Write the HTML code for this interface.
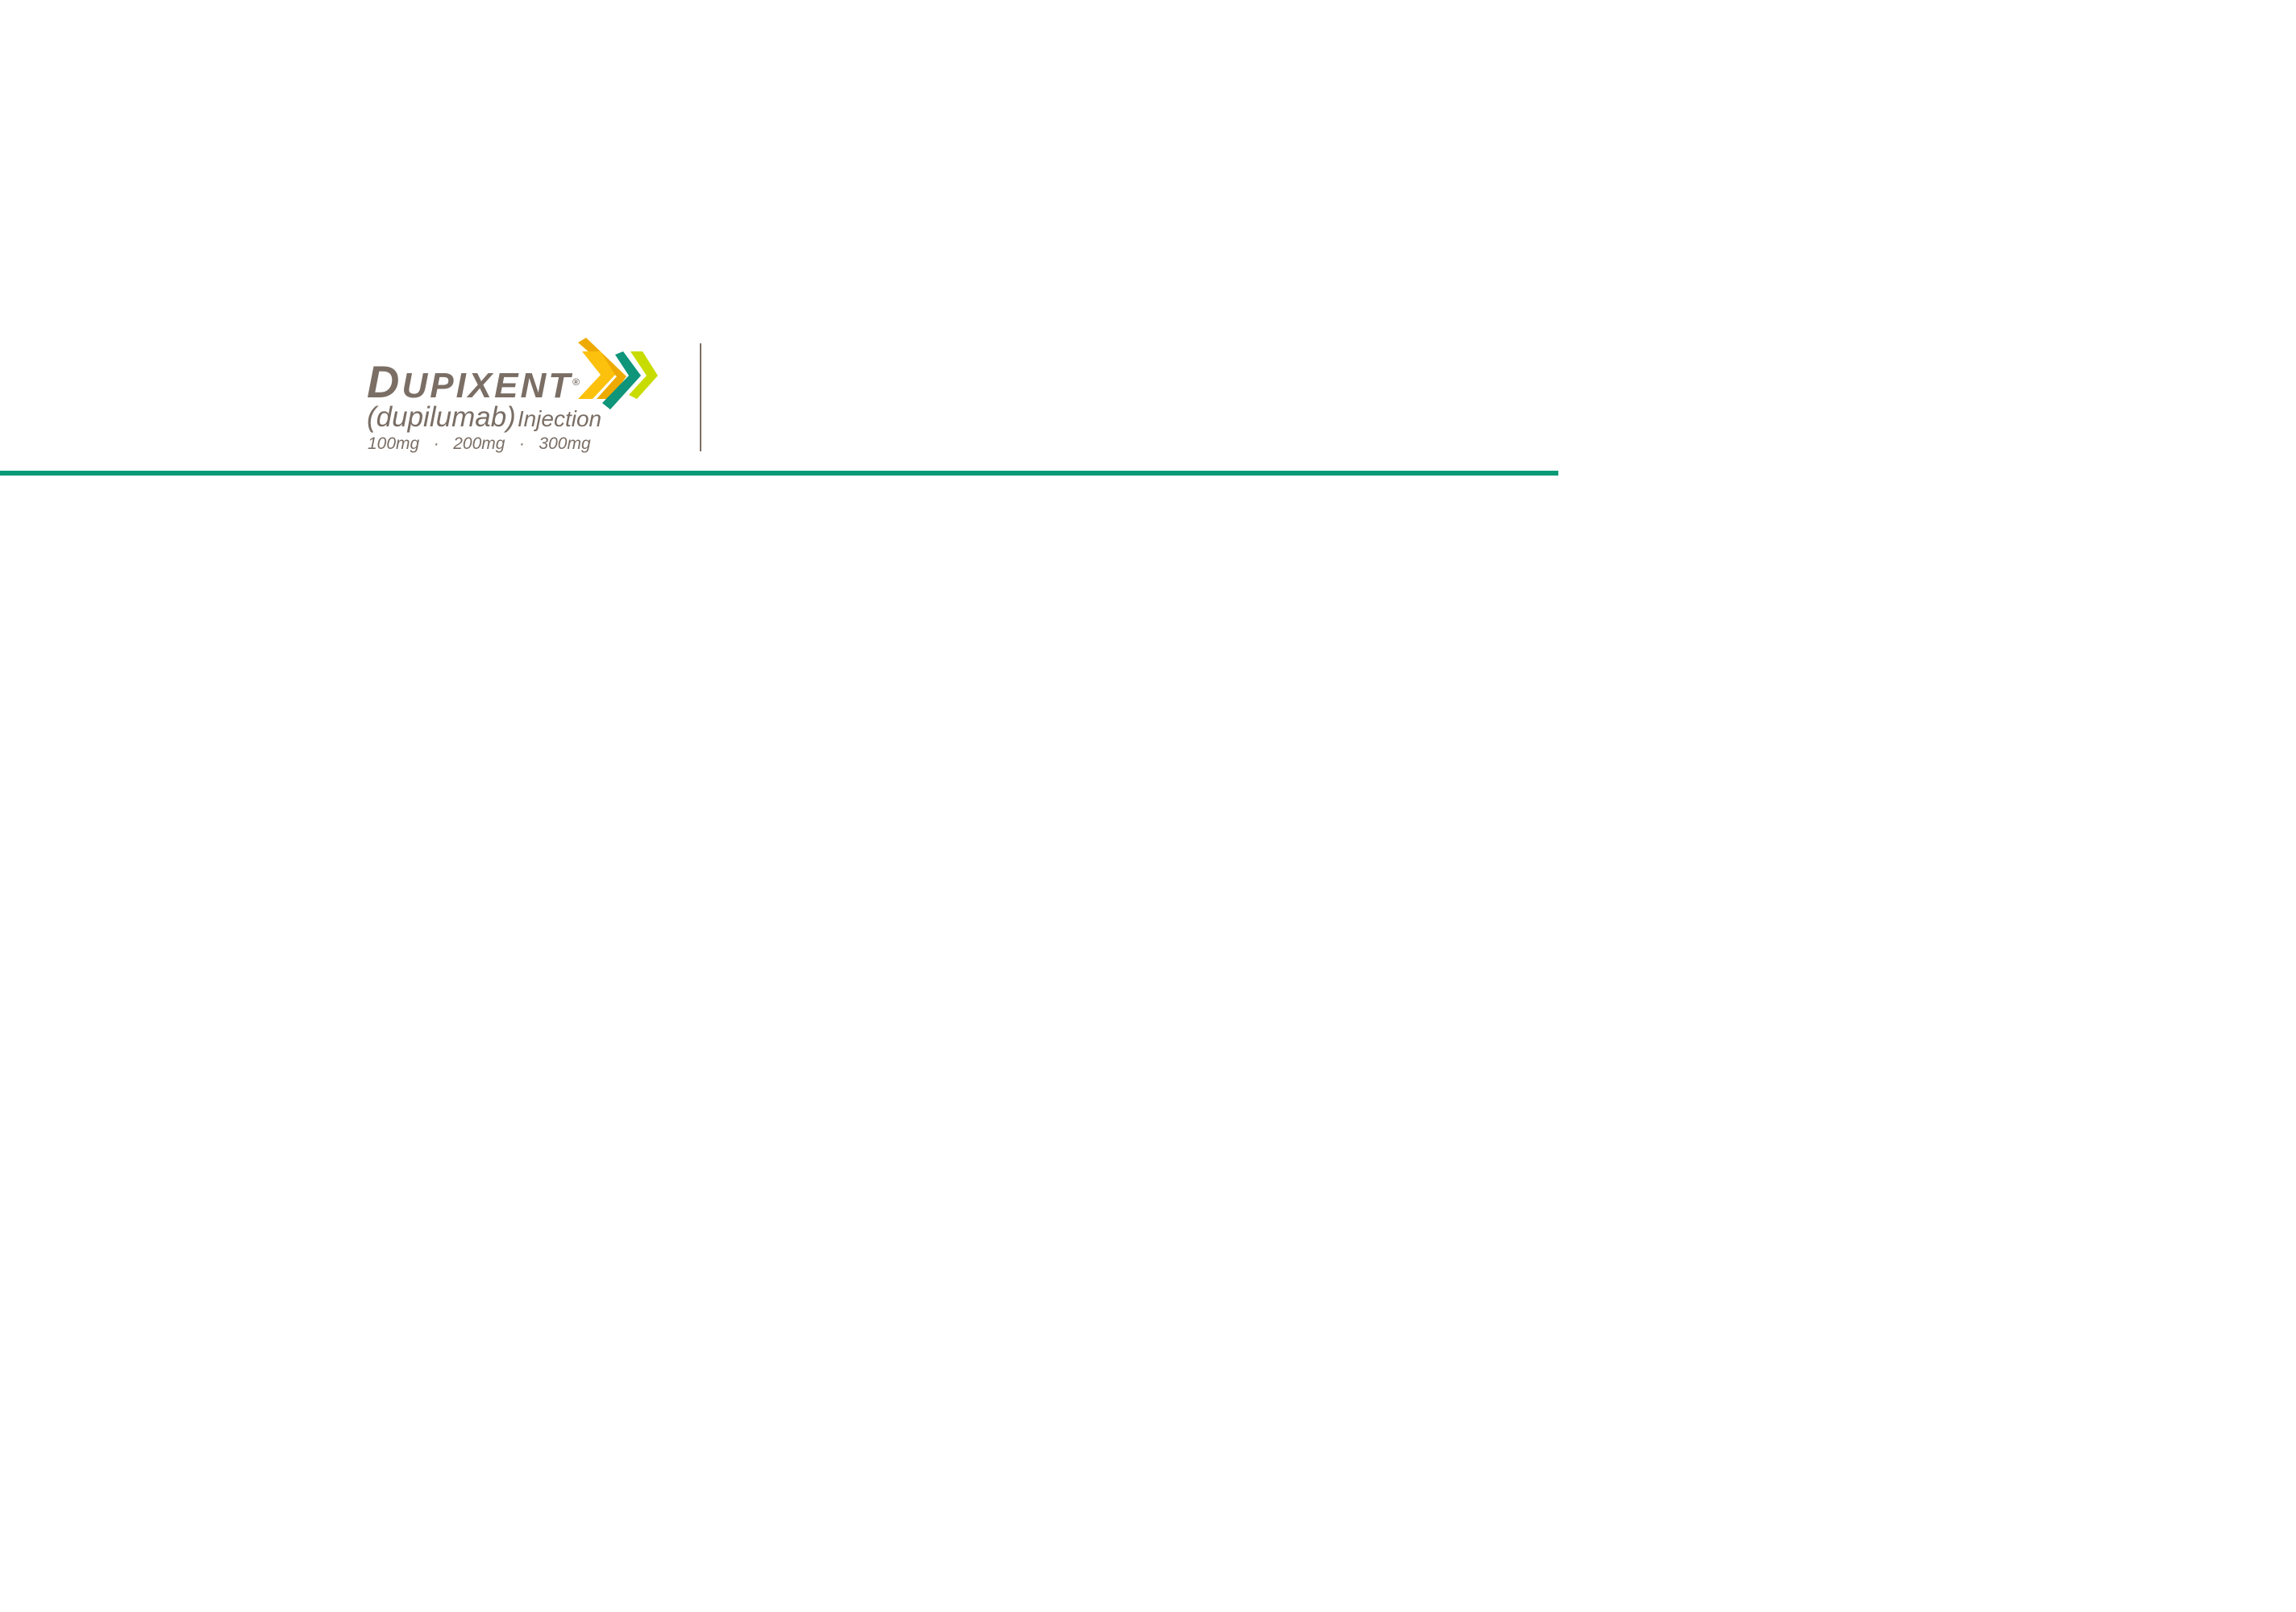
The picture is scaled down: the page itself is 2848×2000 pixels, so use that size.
<!DOCTYPE html>
<html><head><style>
html,body{margin:0;padding:0;background:#fff;}
body{width:2848px;height:2000px;position:relative;overflow:hidden;font-family:"Liberation Sans",sans-serif;}
.t{position:absolute;color:#7a6e65;font-style:italic;white-space:nowrap;}
</style></head><body>
<div class="t" style="left:455px;top:449px;font-size:44px;font-weight:bold;letter-spacing:3px;line-height:50px;"><span style="font-size:56px">D</span>UPIXENT<span style="font-size:12px;vertical-align:top;font-style:normal">®</span></div>
<div class="t" style="left:455px;top:496px;font-size:35px;line-height:44px;">(dupilumab)<span style="font-size:28px;margin-left:2px">Injection</span></div>
<div class="t" style="left:456px;top:537px;font-size:21px;line-height:28px;">100mg &nbsp;&nbsp;· &nbsp;&nbsp;200mg &nbsp;&nbsp;· &nbsp;&nbsp;300mg</div>
<svg style="position:absolute;left:0;top:0" width="2848" height="2000">
<polygon points="727,419 777,467 757,495 740,495 765,467 717,425" fill="#eeaa00"/>
<polygon points="722,436 745,436 763,465 735,495 717,495 745,465" fill="#fcc10d"/>
<polygon points="773,436 795,466 757,508 747,500 780,466 763,440" fill="#0e957a"/>
<polygon points="782,436 797,436 816,466 790,495 780,490 802,466" fill="#c8dc00"/>
<rect x="868" y="426" width="2" height="134" fill="#7a6e65"/>
<rect x="0" y="584" width="1933" height="6" fill="#079b78"/>
</svg>
</body></html>
